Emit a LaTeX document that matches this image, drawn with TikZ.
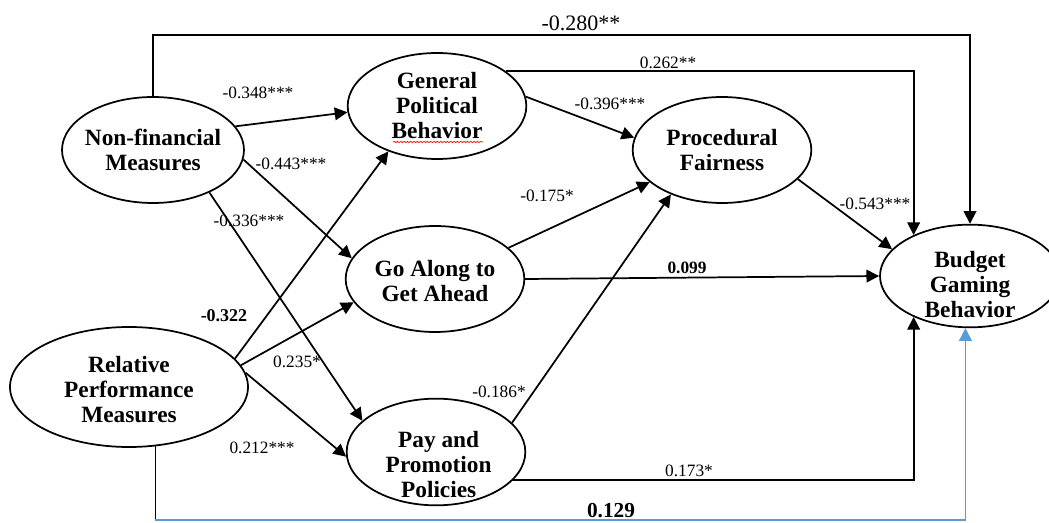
\documentclass[tikz,border=0pt]{standalone}
\usepackage{fontspec}
\setmainfont{Liberation Serif}
\usetikzlibrary{arrows.meta,shapes.geometric,decorations.pathmorphing}
\definecolor{skyb}{RGB}{91,155,213}
\begin{document}
\begin{tikzpicture}[x=0.75pt,y=-0.75pt,
  cons/.style={draw, ellipse, line width=1.3pt, inner sep=0pt, minimum width=134pt, minimum height=79.5pt},
  ctext/.style={font=\fontsize{17.5}{18.75}\selectfont\bfseries, align=center, inner sep=0pt},
  lab/.style={font=\fontsize{13}{15}\selectfont, inner sep=0pt},
  blab/.style={font=\fontsize{13.5}{15}\selectfont\bfseries, inner sep=0pt},
  arr/.style={line width=1.3pt, -{Triangle[length=9.5pt,width=9.5pt]}},
  plain/.style={line width=1.3pt},
  barr/.style={line width=1.1pt, draw=skyb, -{Triangle[length=9.5pt,width=9.5pt,fill=skyb]}}]
\clip (0,0) rectangle (1049,523);
% constructs
\node[cons, minimum width=136.5pt, label={[ctext]center:Non-financial\\Measures}] (NFM) at (153,150) {};
\node[cons, label={[ctext]center:General\\Political\\Behavior}] (GPB) at (437,106) {};
\node[cons, label={[ctext, yshift=-1.5pt]center:Go Along to\\Get Ahead}] (GoA) at (435,279) {};
\node[cons, minimum height=80pt, label={[ctext, yshift=-9.75pt, xshift=2pt]center:Pay and\\Promotion\\Policies}] (Pay) at (436,452) {};
\node[cons, label={[ctext]center:Procedural\\Fairness}] (PF) at (722,150) {};
\node[cons, minimum width=135pt, minimum height=77pt, label={[ctext, yshift=-6.75pt]center:Budget\\Gaming\\Behavior}] (BGB) at (970,276) {};
\node[cons, minimum width=178.5pt, minimum height=90pt, label={[ctext, yshift=-2.25pt]center:Relative\\Performance\\Measures}] (RPM) at (129,387) {};
% spell-check underline
\draw[red, line width=0.5pt, decorate, decoration={snake, amplitude=0.5pt, segment length=2.5pt}] (393,142) -- (483,142);
% helper coordinates
\coordinate (top) at (600,35);
\coordinate (bot) at (600,520);
\coordinate (corner) at (RPM.-66 |- bot);
% connectors
\draw[arr] (NFM.16) -- (GPB.184);
\draw[arr] (NFM.-6) -- (GoA.166);
\draw[arr] (NFM.-37) -- (Pay.157);
\draw[arr] (RPM.15) -- (GPB.223);
\draw[arr] (RPM.11) -- (GoA.196);
\draw[arr] (RPM.7) -- (Pay.183);
\draw[arr] (GPB.6) -- (PF.172);
\draw[arr] (GoA.23) -- (PF.204);
\draw[arr] (Pay.21) -- (PF.221);
\draw[arr] (PF.-21) -- (BGB.161);
\draw[arr] (GoA.east) -- (BGB.west);
\draw[arr] (GPB.27) -| (BGB.144);
\draw[arr] (Pay.-20) -| (BGB.216);
\draw[arr] (NFM.north) |- (top) -| (BGB.north);
\draw[plain] (RPM.-66) -- (corner);
\draw[barr] (corner) -| (BGB.265);
% labels
\node[lab, font=\fontsize{16.5}{18}\selectfont] (l280) at (581,23) {-0.280**};
\node[lab] (l262) at (668,63) {0.262**};
\node[lab] (l348) at (258,93) {-0.348***};
\node[lab] (l443) at (291,164) {-0.443***};
\node[lab] (l336) at (249,221) {-0.336***};
\node[lab] (l396) at (610,104) {-0.396***};
\node[lab] (l175) at (547,196) {-0.175*};
\node[lab] (l543) at (875,204) {-0.543***};
\node[blab, font=\fontsize{13}{15}\selectfont\bfseries] (l099) at (687,268) {0.099};
\node[blab] (l322) at (224,316) {-0.322};
\node[lab] (l235) at (297,362) {0.235*};
\node[lab] (l212) at (262,448) {0.212***};
\node[lab] (l186) at (499,392) {-0.186*};
\node[lab] (l173) at (689,471) {0.173*};
\node[blab, font=\fontsize{16}{18}\selectfont\bfseries] (l129) at (611,511) {0.129};
\end{tikzpicture}
\end{document}
